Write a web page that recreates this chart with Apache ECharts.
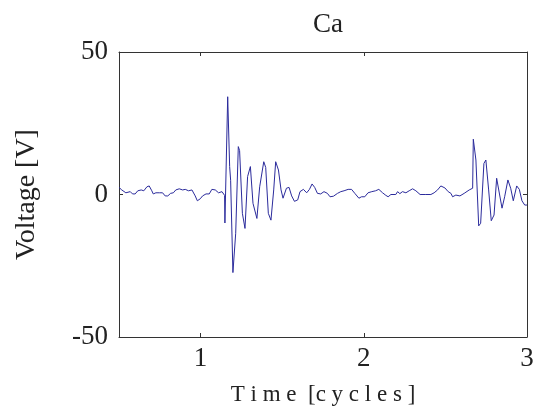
<!DOCTYPE html>
<html>
<head>
<meta charset="utf-8">
<script src="https://cdn.jsdelivr.net/npm/echarts@6/dist/echarts.min.js"></script>
<style>
  html, body { margin: 0; padding: 0; background: #fff; }
  #chart { width: 536px; height: 416px; }
</style>
</head>
<body>
<div id="chart"></div>
<script>
// signal: time in cycles, voltage in V
var timeCycles = [
  0.500, 0.517, 0.542, 0.554, 0.569, 0.583, 0.599, 0.615, 0.636, 0.652,
  0.671, 0.685, 0.701, 0.710, 0.726, 0.747, 0.767, 0.783, 0.799, 0.816,
  0.833, 0.848, 0.869, 0.890, 0.906, 0.926, 0.947, 0.967, 0.980, 0.998,
  1.012, 1.033, 1.053, 1.069, 1.090, 1.110, 1.131, 1.147, 1.149, 1.166,
  1.178, 1.184, 1.198, 1.215, 1.231, 1.239, 1.256, 1.272, 1.288, 1.305,
  1.321, 1.345, 1.362, 1.387, 1.399, 1.415, 1.431, 1.448, 1.460, 1.477,
  1.493, 1.505, 1.526, 1.542, 1.558, 1.575, 1.595, 1.609, 1.630, 1.650,
  1.667, 1.683, 1.699, 1.716, 1.736, 1.756, 1.777, 1.793, 1.814, 1.839,
  1.859, 1.879, 1.904, 1.925, 1.945, 1.970, 1.986, 2.006, 2.026, 2.049,
  2.072, 2.092, 2.115, 2.135, 2.149, 2.166, 2.196, 2.207, 2.221, 2.237,
  2.258, 2.278, 2.299, 2.319, 2.345, 2.380, 2.411, 2.431, 2.452, 2.472,
  2.497, 2.517, 2.534, 2.544, 2.564, 2.589, 2.615, 2.646, 2.667, 2.671,
  2.687, 2.704, 2.716, 2.736, 2.748, 2.765, 2.781, 2.798, 2.814, 2.826,
  2.847, 2.863, 2.883, 2.900, 2.916, 2.937, 2.953, 2.969, 2.986, 3.000
];
var voltage = [
  2.5, 1.6, 0.6, 0.2, 1.0, 0.2, 0.2, 1.3, 1.6, 1.3,
  2.7, 3.0, 1.3, 0.2, 0.6, 0.6, 0.6, -0.5, -0.5, 0.4,
  0.6, 1.6, 2.0, 1.6, 1.8, 1.3, 1.6, -0.5, -2.2, -1.5,
  -0.5, 0.2, 0.2, 1.8, 1.6, 0.6, 1.0, -0.3, -10, 34.3,
  9.8, 5.0, -27.4, -13.6, 16.8, 15.4, -6.6, -11.9, 6.3, 9.8,
  -3.1, -8.4, 2.7, 11.5, 9.5, -6.6, -9.0, 1.6, 11.5, 8.6,
  1.6, -1.3, 2.2, 2.5, -0.5, -2.4, -1.9, 1.0, 1.8, 0.6,
  1.8, 3.7, 2.5, 0.4, 0.2, 1.0, 0.4, -0.8, -0.6, 0.4,
  1.0, 1.3, 1.8, 1.8, 0.4, -1.3, -0.8, -0.8, 0.6, 1.0,
  1.3, 1.8, 0.6, -0.3, -0.8, 0.0, 0.0, 1.0, 0.3, 1.0,
  0.6, 1.3, 2.0, 1.3, 0.0, 0.0, 0.0, 0.6, 1.6, 3.0,
  2.3, 1.0, 0.4, -0.8, -0.2, -0.5, 0.4, 1.6, 2.2, 19.4,
  12.1, -11, -10.1, 10.9, 12.1, 1.6, -9.2, -7.2, 5.7, 6.0,
  -4.8, -0.8, 5.1, 2.2, -2.2, 3.0, 1.8, -2.2, -3.7, -3.7
];
var xTicks = [1, 2, 3];
var yTicks = [-50, 0, 50];

var chart = echarts.init(document.getElementById('chart'));

var pts = [];
for (var i = 0; i < timeCycles.length; i++) {
    pts.push([timeCycles[i], voltage[i]]);
}

var font = "'Liberation Serif', 'Times New Roman', serif";
var axisCol = '#333333';

var option = {
    backgroundColor: '#ffffff',
    animation: false,
    title: {
        text: 'Ca',
        left: 323,
        top: 6,
        textAlign: 'center',
        textStyle: { fontFamily: font, fontSize: 27, fontWeight: 'normal', color: '#222' }
    },
    grid: { left: 119, right: 9, top: 52, bottom: 79, containLabel: false, outerBoundsMode: 'none' },
    xAxis: [
        {
            type: 'value', min: 0.5, max: 3,
            name: 'T i m e  [c y c l e s ]',
            nameLocation: 'middle', nameGap: 46,
            nameTextStyle: { fontFamily: font, fontSize: 23, color: '#222' },
            axisLine: { show: true, onZero: false, lineStyle: { color: axisCol, width: 1 } },
            axisTick: { show: true, inside: true, length: 4, customValues: xTicks, lineStyle: { color: axisCol } },
            axisLabel: { customValues: xTicks, fontFamily: font, fontSize: 27, color: '#222', margin: 8 },
            splitLine: { show: false }
        },
        {
            type: 'value', min: 0.5, max: 3, position: 'top',
            axisLine: { show: true, onZero: false, lineStyle: { color: axisCol, width: 1 } },
            axisTick: { show: true, inside: true, length: 4, customValues: xTicks, lineStyle: { color: axisCol } },
            axisLabel: { show: false },
            splitLine: { show: false }
        }
    ],
    yAxis: [
        {
            type: 'value', min: -50, max: 50, interval: 50,
            name: 'Voltage [V]',
            nameLocation: 'middle', nameGap: 78,
            nameTextStyle: { fontFamily: font, fontSize: 28, color: '#222' },
            axisLine: { show: true, onZero: false, lineStyle: { color: axisCol, width: 1 } },
            axisTick: { show: true, inside: true, length: 4, lineStyle: { color: axisCol } },
            axisLabel: { fontFamily: font, fontSize: 27, color: '#222', margin: 11 },
            splitLine: { show: false }
        },
        {
            type: 'value', min: -50, max: 50, interval: 50, position: 'right',
            axisLine: { show: true, onZero: false, lineStyle: { color: axisCol, width: 1 } },
            axisTick: { show: true, inside: true, length: 4, lineStyle: { color: axisCol } },
            axisLabel: { show: false },
            splitLine: { show: false }
        }
    ],
    series: [{
        type: 'line',
        data: pts,
        showSymbol: false,
        lineStyle: { color: '#2b2b9c', width: 1 },
        itemStyle: { color: '#2b2b9c' }
    }]
};
chart.setOption(option);
</script>
</body>
</html>
